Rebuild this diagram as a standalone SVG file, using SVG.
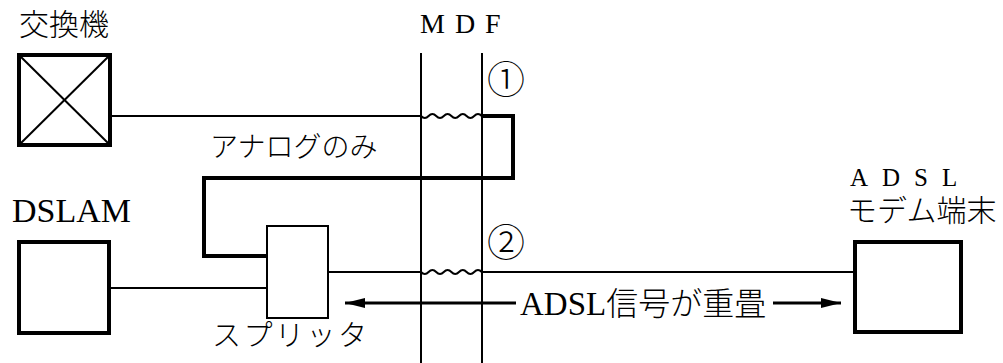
<svg xmlns="http://www.w3.org/2000/svg" width="1003" height="363" viewBox="0 0 1003 363">
<style>
.bg{fill:#fff}
.box{fill:#fff;stroke:#000;stroke-width:4}
.thin{fill:none;stroke:#000;stroke-width:2}
.thick{fill:none;stroke:#000;stroke-width:4;stroke-linejoin:miter}
.arr{fill:none;stroke:#000;stroke-width:3}
.jp{fill:#000;font-weight:300}
.lat{fill:#000}
</style>
<defs>
<marker id="ah" viewBox="0 0 20 10" refX="20" refY="5" markerWidth="20" markerHeight="10" markerUnits="userSpaceOnUse" orient="auto-start-reverse">
<path d="M0,0 L20,5 L0,10 z" fill="#000"/>
</marker>
</defs>
<rect class="bg" x="0" y="0" width="1003" height="363"/>

<g id="mdf">
<line class="thin" x1="421" y1="53" x2="421" y2="363"/>
<line class="thin" x1="482" y1="53" x2="482" y2="363"/>
<text class="lat" font-family="'Liberation Serif', 'DejaVu Serif', serif" font-size="28" x="420" y="33" letter-spacing="10">MDF</text>
</g>

<g id="connectors">
<line class="thin" x1="112" y1="116" x2="421" y2="116"/>
<path class="thin" d="M421,116 q3.8,4 7.6,0 t7.6,0 t7.6,0 t7.6,0 t7.6,0 t7.6,0 t7.6,0 t7.6,0"/>
<path class="thick" d="M481,116 H513 V178 H204 V256 H266"/>
<line class="thin" x1="328" y1="272" x2="421" y2="272"/>
<path class="thin" d="M421,272 q3.8,4 7.6,0 t7.6,0 t7.6,0 t7.6,0 t7.6,0 t7.6,0 t7.6,0 t7.6,0"/>
<line class="thin" x1="482" y1="272" x2="853" y2="272"/>
<line class="thin" x1="111" y1="288" x2="266" y2="288"/>
<line class="arr" x1="516" y1="303" x2="345" y2="303" marker-end="url(#ah)"/>
<line class="arr" x1="773" y1="303" x2="841" y2="303" marker-end="url(#ah)"/>
</g>

<g id="exchange">
<rect class="box" x="19" y="55" width="91" height="90"/>
<line class="thin" x1="19" y1="55" x2="110" y2="145"/>
<line class="thin" x1="110" y1="55" x2="19" y2="145"/>
<text class="jp" font-family="'Noto Sans CJK JP', 'Noto Sans CJK SC', sans-serif" font-size="30" x="19" y="35">交換機</text>
</g>

<g id="dslam">
<rect class="box" x="19" y="242" width="90" height="91"/>
<text class="lat" font-family="'Liberation Serif', 'DejaVu Serif', serif" font-size="34" x="12" y="222">DSLAM</text>
</g>

<g id="splitter">
<rect class="thin" x="267" y="226" width="61" height="92" fill="#fff"/>
<text class="jp" font-family="'Noto Sans CJK JP', 'Noto Sans CJK SC', sans-serif" font-size="29" x="212" y="346" letter-spacing="2.5">スプリッタ</text>
</g>

<g id="modem">
<rect class="box" x="855" y="242" width="106" height="90"/>
<text class="lat" font-family="'Liberation Serif', 'DejaVu Serif', serif" font-size="25" x="850" y="186" letter-spacing="14">ADSL</text>
<text class="jp" font-family="'Noto Sans CJK JP', 'Noto Sans CJK SC', sans-serif" font-size="30" x="847" y="221">モデム端末</text>
</g>

<g id="labels">
<text class="jp" font-family="'Noto Sans CJK JP', 'Noto Sans CJK SC', sans-serif" font-size="28" x="210" y="157">アナログのみ</text>
<text class="jp" font-family="'Noto Sans CJK JP', 'Noto Sans CJK SC', sans-serif" font-size="38" x="506" y="93" text-anchor="middle">①</text>
<text class="jp" font-family="'Noto Sans CJK JP', 'Noto Sans CJK SC', sans-serif" font-size="38" x="506" y="256" text-anchor="middle">②</text>
<text x="520" y="315" font-size="33"><tspan class="lat" font-family="'Liberation Serif', 'DejaVu Serif', serif">ADSL</tspan><tspan class="jp" font-family="'Noto Sans CJK JP', 'Noto Sans CJK SC', sans-serif" font-size="32">信号が重畳</tspan></text>
</g>
</svg>
